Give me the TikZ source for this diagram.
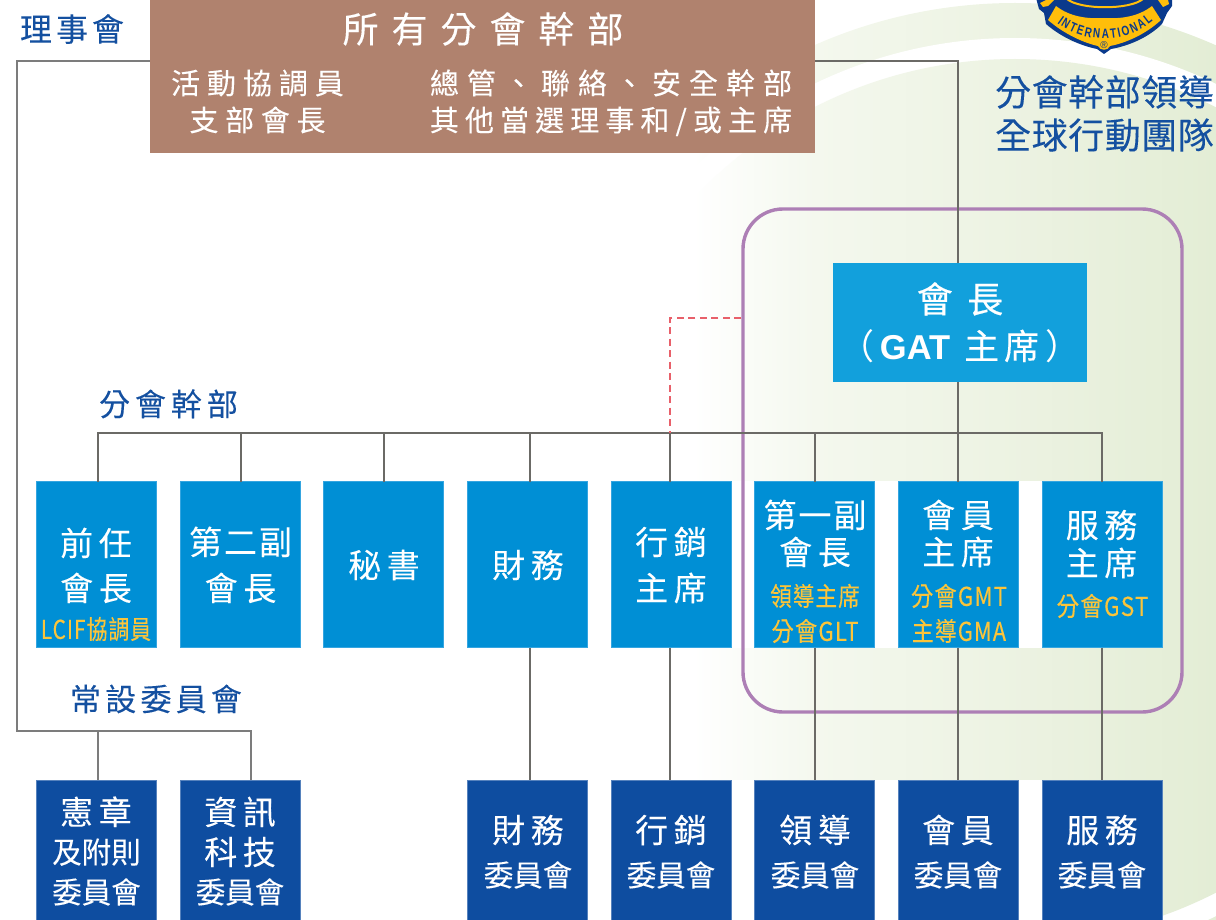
\documentclass[tikz,border=0pt]{standalone}
\usepackage{fontspec}
\usepackage{graphicx}
\usetikzlibrary{decorations.text}
\setmainfont{Noto Sans CJK TC}
\newfontfamily\latb{Liberation Sans}[BoldFont={Liberation Sans Bold}]
\newfontfamily\logofont[FakeStretch=0.74]{Liberation Sans Bold}
\definecolor{cTop}{HTML}{008FD5}
\definecolor{cTopE}{HTML}{35A5E0}
\definecolor{cPres}{HTML}{12A0DC}
\definecolor{cBot}{HTML}{0E4DA0}
\definecolor{cBrown}{HTML}{B0826E}
\definecolor{cYel}{HTML}{FBC43A}
\definecolor{cLine}{HTML}{6B6A66}
\definecolor{cLineL}{HTML}{7C7C7C}
\definecolor{cPur}{HTML}{AD7FB5}
\definecolor{cRed}{HTML}{E8606A}
\definecolor{cBlue}{HTML}{1450A0}
\definecolor{cLogoB}{HTML}{0A3A8C}
\definecolor{cLogoY}{HTML}{FFBE0A}
\definecolor{cGa}{HTML}{F4F8EE}
\definecolor{cGb}{HTML}{EDF3E3}
\definecolor{cGc}{HTML}{E3EDD5}
\pgfdeclarehorizontalshading{bgfade}{100bp}{color(0bp)=(white);color(53.5bp)=(white);color(58.5bp)=(cGa);color(66bp)=(cGb);color(75bp)=(cGc);color(100bp)=(cGc)}
\newcounter{tn}
% #1 x, #2 y (centre of the em box), #3 size, #4 letter space %, #5 colour, #6 text
\newcommand\TL[6]{\stepcounter{tn}%
  \node[lbl,text=#5] (t\thetn) at ({#1},{#2+0.38*#3})
    {\fontsize{#3}{#3}\selectfont\addfontfeature{LetterSpace=#4,FakeBold=0.12}#6};}
\newcommand\YL[4]{\stepcounter{tn}%
  \node[lbl,text=cYel] (t\thetn) at ({#1},{#2+0.38*26})
    {\scalebox{#3}[1]{\fontsize{26}{26}\selectfont\addfontfeature{LetterSpace=5,FakeBold=0.25}#4}};}
\tikzset{
  x=1pt,y=-1pt,
  lbl/.style={anchor=base,inner sep=0pt,outer sep=0pt},
  boxbase/.style={rectangle,inner sep=0pt,outer sep=0pt,minimum width=120pt},
  topbox/.style={boxbase,fill=cTop,draw=cTopE,line width=.5pt,minimum height=166pt},
  botbox/.style={boxbase,fill=cBot,draw=cBot!70!white,line width=.5pt,minimum height=150pt},
  conn/.style={draw=cLine,line width=2.5pt},
  connL/.style={draw=cLineL,line width=2.7pt,line join=miter},
}
\begin{document}
\begin{tikzpicture}
\useasboundingbox (0,0) rectangle (1216,920);
\clip (0,0) rectangle (1216,920);
% background arcs
\begin{scope}
  \clip (1015,500) circle[radius=497];
  \shade[shading=bgfade] (0,0) rectangle (1216,1000);
\end{scope}
\fill[white] (1015,500) circle[radius=462];
\begin{scope}
  \clip (1015,500) circle[radius=441];
  \shade[shading=bgfade] (0,0) rectangle (1216,1000);
\end{scope}
% white strips behind the rows
\fill[white] (36,481) rectangle (1163,648);
\fill[white] (36,780) rectangle (1163,920);
% logo
\fill[cLogoB] (1036,-2) -- (1039,9) -- (1044,13) -- (1046,24)
   .. controls (1062,38) and (1082,46) .. (1097,49) -- (1104,54) -- (1111,49)
   .. controls (1128,46) and (1148,38) .. (1162,24) -- (1167,13) -- (1172,6) -- (1172,-2) -- cycle;
\fill[cLogoY] (1056,6) -- (1048,20) .. controls (1064,34) and (1084,43) .. (1098,46)
   .. controls (1100,51) and (1108,51) .. (1110,46)
   .. controls (1126,43) and (1146,34) .. (1161,20) -- (1152,6)
   .. controls (1138,17) and (1120,19) .. (1104,18)
   .. controls (1088,19) and (1070,17) .. (1056,6) -- cycle;
\fill[cLogoY] (1040,3) -- (1046,0) -- (1054,0) -- (1048,6) -- (1043,7) -- cycle;
\fill[cLogoY] (1158,0) -- (1168,0) -- (1169,4) -- (1163,7) -- cycle;
\draw[cLogoY,line width=2pt] (1067,-1) .. controls (1080,10) and (1130,10) .. (1143,-1);
\path[decorate,decoration={text along path,text align=fit to path,
   text={|\logofont\fontsize{13.5}{13.5}\selectfont\color{cLogoB}|INTERNATIONAL}}]
   (1057,23) .. controls (1085,44) and (1125,44) .. (1153,21);
\node[lbl,text=cLogoB] (logoR) at (1104,49) {\fontsize{10}{10}\selectfont\latb ®};
% boxes
\node[rectangle,inner sep=0pt,minimum width=665pt,minimum height=153pt,fill=cBrown] (allof) at (482.5,76.5) {};
\node[rectangle,rounded corners=40pt,draw=cPur,line width=3.4pt,minimum width=439pt,minimum height=503pt] (team) at (962.5,460.5) {};
\node[rectangle,inner sep=0pt,minimum width=254pt,minimum height=119pt,fill=cPres] (pres) at (960,322.5) {};
\node[topbox] (b1) at (96.5,564.5) {};
\node[topbox] (b2) at (240,564.5) {};
\node[topbox] (b3) at (383.5,564.5) {};
\node[topbox] (b4) at (527.5,564.5) {};
\node[topbox] (b5) at (671.5,564.5) {};
\node[topbox] (b6) at (814.5,564.5) {};
\node[topbox] (b7) at (958.5,564.5) {};
\node[topbox] (b8) at (1102.5,564.5) {};
\node[botbox] (c1) at (96.5,855) {};
\node[botbox] (c2) at (240,855) {};
\node[botbox] (c4) at (527.5,855) {};
\node[botbox] (c5) at (671.5,855) {};
\node[botbox] (c6) at (814.5,855) {};
\node[botbox] (c7) at (958.5,855) {};
\node[botbox] (c8) at (1102.5,855) {};
% connectors
\coordinate (tl) at (17,61);
\coordinate (tr) at (958,61);
\coordinate (bl) at (17,731);
\coordinate (br) at (251,731);
\coordinate (cj) at (98,731);
\draw[connL] (allof.west |- tl) -- (tl) -- (bl) -- (br) -- (br |- c2.north);
\draw[connL] (cj) -- (cj |- c1.north);
\draw[conn] (allof.east |- tr) -- (tr) -- (tr |- pres.north);
\coordinate (d1) at (98,433);
\coordinate (d2) at (241,433);
\coordinate (d3) at (384,433);
\coordinate (d4) at (530,433);
\coordinate (d5) at (670,433);
\coordinate (d6) at (815,433);
\coordinate (d7) at (958,433);
\coordinate (d8) at (1102,433);
\draw[conn] (tr |- pres.south) -- (d7);
\draw[conn] (d1 |- b1.north) -- (d1) -- (d8) -- (d8 |- b8.north);
\foreach \i in {2,...,7} {\draw[conn] (d\i) -- (d\i |- b\i.north);}
\draw[conn] (d4 |- b4.south) -- (d4 |- c4.north);
\draw[conn] (d5 |- b5.south) -- (d5 |- c5.north);
\draw[conn] (d6 |- b6.south) -- (d6 |- c6.north);
\draw[conn] (d7 |- b7.south) -- (d7 |- c7.north);
\draw[conn] (d8 |- b8.south) -- (d8 |- c8.north);
\coordinate (dashc) at (670,318);
\draw[cRed,line width=2.5pt,dash pattern=on 7pt off 4.5pt] (team.west |- dashc) -- (dashc) -- (d5);
% labels
\TL{72}{29}{32}{12.5}{cBlue}{理事會}
\TL{483}{29}{36}{36}{white}{所有分會幹部}
\TL{257.5}{83}{29}{24}{white}{活動協調員}
\TL{257.5}{120}{29}{23}{white}{支部會長}
\TL{611}{83}{29}{27.6}{white}{總管、聯絡、安全幹部}
\TL{611}{120}{29}{21}{white}{其他當選理事和/或主席}
\TL{1104.5}{92}{36}{1.5}{cBlue}{分會幹部領導}
\TL{1104.5}{135}{36}{1.5}{cBlue}{全球行動團隊}
\TL{168.5}{404}{31}{16}{cBlue}{分會幹部}
\TL{156}{699}{31}{13.6}{cBlue}{常設委員會}
\stepcounter{tn}
\node[lbl,text=white] (t\thetn) at (960,{299+0.38*36}) {\fontsize{36}{36}\selectfont\addfontfeature{LetterSpace=40,FakeBold=0.4}會長};
\stepcounter{tn}
\node[lbl,text=white] (t\thetn) at (960,{346+0.38*35}) {\fontsize{35}{35}\selectfont （\hspace{5pt}{\latb\fontsize{34.5}{34.5}\selectfont\bfseries GAT}\hspace{14pt}{\addfontfeature{LetterSpace=14,FakeBold=0.3}主席}\hspace{6pt}）};
% top row
\TL{96}{543}{33}{17}{white}{前任}
\TL{96}{588}{33}{17}{white}{會長}
\YL{96}{629}{.8}{LCIF協調員}
\TL{240.5}{542}{33}{6}{white}{第二副}
\TL{240.5}{588}{33}{17}{white}{會長}
\TL{384}{565}{33}{17}{white}{秘書}
\TL{528}{565}{33}{17}{white}{財務}
\TL{671}{542}{33}{17}{white}{行銷}
\TL{671}{588}{33}{17}{white}{主席}
\TL{815}{515}{33}{6}{white}{第一副}
\TL{815}{552}{33}{17}{white}{會長}
\YL{815}{596}{.83}{領導主席}
\YL{815}{631}{.86}{分會GLT}
\TL{958}{515}{33}{17}{white}{會員}
\TL{958}{552}{33}{17}{white}{主席}
\YL{959}{596}{.86}{分會GMT}
\YL{959}{631}{.84}{主導GMA}
\TL{1101.5}{525}{33}{17}{white}{服務}
\TL{1101.5}{563}{33}{17}{white}{主席}
\YL{1102.5}{606}{.87}{分會GST}
% bottom row
\TL{96}{812}{33}{17}{white}{憲章}
\TL{96.5}{852}{29.5}{0}{white}{及附則}
\TL{96.5}{892}{29.5}{0}{white}{委員會}
\TL{240}{812}{33}{17}{white}{資訊}
\TL{240}{852}{33}{17}{white}{科技}
\TL{240}{892}{29.5}{0}{white}{委員會}
\TL{528}{830}{33}{17}{white}{財務}
\TL{528}{875}{29.5}{0}{white}{委員會}
\TL{671}{830}{33}{17}{white}{行銷}
\TL{671}{875}{29.5}{0}{white}{委員會}
\TL{815}{830}{33}{17}{white}{領導}
\TL{815}{875}{29.5}{0}{white}{委員會}
\TL{958}{830}{33}{17}{white}{會員}
\TL{958}{875}{29.5}{0}{white}{委員會}
\TL{1102}{830}{33}{17}{white}{服務}
\TL{1102}{875}{29.5}{0}{white}{委員會}
\end{tikzpicture}
\end{document}
